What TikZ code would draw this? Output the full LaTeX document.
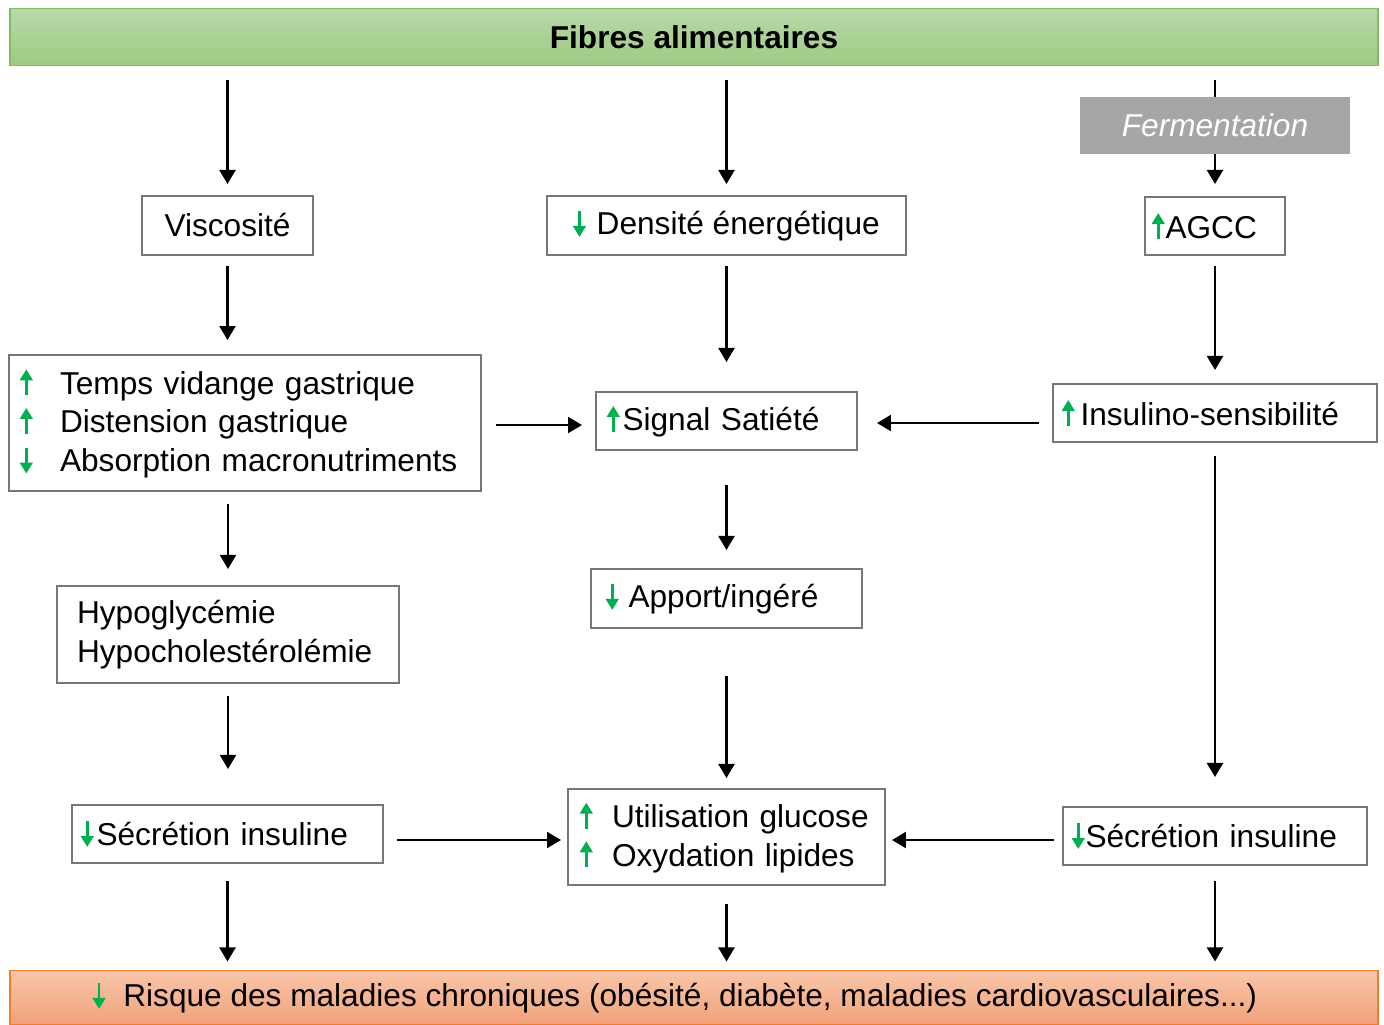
\documentclass[tikz,border=0pt]{standalone}
\usepackage{fontspec}
\setmainfont{Liberation Sans}
\usetikzlibrary{arrows.meta, positioning}
\definecolor{boxline}{RGB}{118,118,118}
\definecolor{vertfleche}{RGB}{0,176,80}
\definecolor{verthaut}{RGB}{184,217,168}
\definecolor{vertbas}{RGB}{158,202,132}
\definecolor{vertbord}{RGB}{128,188,98}
\definecolor{orangehaut}{RGB}{248,198,170}
\definecolor{orangebas}{RGB}{241,162,122}
\definecolor{orangebord}{RGB}{237,125,49}
\definecolor{fermgris}{RGB}{166,166,166}
% petites fleches vertes dans le texte
\newcommand{\hausse}{\tikz[x=1cm, y=1cm, baseline=0pt]\draw[vertfleche, line width=1.6pt, -{Triangle[length=0.22cm, width=0.25cm]}] (0,-0.02) -- (0,0.5);}
\newcommand{\baisse}{\tikz[x=1cm, y=1cm, baseline=0pt]\draw[vertfleche, line width=1.6pt, -{Triangle[length=0.22cm, width=0.25cm]}] (0,0.48) -- (0,-0.04);}

\begin{document}
\begin{tikzpicture}[x=0.02cm, y=-0.02cm,
		font=\fontsize{18}{22}\selectfont,
		box/.style={draw=boxline, line width=1.1pt, fill=white, inner sep=0pt, align=left},
		bar/.style={line width=1.1pt, minimum width=27.36cm, minimum height=1.14cm, inner sep=0pt},
		fleche/.style={line width=1.6pt, -{Triangle[length=8pt, width=9pt]}}
	]
		\useasboundingbox (0,0) rectangle (1384,1025);

		% bandes du haut et du bas
		\node[bar, draw=vertbord, top color=verthaut, bottom color=vertbas, font=\fontsize{18}{22}\selectfont\bfseries] (fibres) at (694,37) {Fibres alimentaires};
		\node[bar, draw=orangebord, top color=orangehaut, bottom color=orangebas, minimum height=1.08cm] (risque) at (694,997.5) {\baisse\hspace{0.36cm}Risque des maladies chroniques (obésité, diabète, maladies cardiovasculaires...)\hspace*{0.76cm}};

		% colonne gauche
		\node[box, align=center, minimum width=3.42cm, minimum height=1.18cm] (visc) at (227.5,225.5) {Viscosité};
		\node[box, minimum width=9.44cm, minimum height=2.72cm, text width=9.0cm] (temps) at (245,423) {%
			\makebox[0.8cm][l]{\hausse}Temps vidange gastrique\\
			\makebox[0.8cm][l]{\hausse}Distension gastrique\\
			\makebox[0.8cm][l]{\baisse}Absorption macronutriments};
		\node[box, minimum width=6.84cm, minimum height=1.94cm, text width=6.04cm] (hypo) at (228,634.5) {Hypoglycémie\\Hypocholestérolémie};
		\node[box, minimum width=6.22cm, minimum height=1.16cm, text width=5.86cm] (secl) at (227.5,834) {\baisse\hspace{0.06cm}Sécrétion insuline};

		% colonne centrale
		\node[box, align=center, minimum width=7.18cm, minimum height=1.18cm] (dens) at (726.5,225.5) {\baisse\hspace{0.22cm}Densité énergétique};
		\node[box, minimum width=5.22cm, minimum height=1.16cm, text width=4.78cm] (signal) at (726.5,421) {\hausse\hspace{0.06cm}Signal Satiété};
		\node[box, minimum width=5.42cm, minimum height=1.18cm, text width=4.82cm] (apport) at (726.5,598.5) {\baisse\hspace{0.2cm}Apport/ingéré};
		\node[box, minimum width=6.34cm, minimum height=1.92cm, text width=5.86cm] (util) at (726.5,837) {%
			\makebox[0.64cm][l]{\hausse}Utilisation glucose\\
			\makebox[0.64cm][l]{\hausse}Oxydation lipides};

		% colonne droite
		\node[box, minimum width=2.8cm, minimum height=1.16cm, text width=2.52cm] (agcc) at (1215,226) {\hausse\hspace{0.02cm}AGCC};
		\node[box, minimum width=6.48cm, minimum height=1.16cm, text width=6.12cm] (insul) at (1215,413) {\hausse\hspace{0.12cm}Insulino-sensibilité};
		\node[box, minimum width=6.08cm, minimum height=1.16cm, text width=5.72cm] (secr) at (1215,836) {\baisse\hspace{0.02cm}Sécrétion insuline};

		% fleches
		\draw[fleche, shorten <=0.28cm, shorten >=0.22cm] (fibres.south -| visc.north) -- (visc.north);
		\draw[fleche, shorten <=0.28cm, shorten >=0.22cm] (fibres.south -| dens.north) -- (dens.north);
		\draw[line width=1.6pt, shorten <=0.28cm] (fibres.south -| agcc.north) -- ++(0,31) coordinate (fermhaut);
		\draw[fleche, shorten >=0.24cm] (fermhaut) -- (agcc.north);
		\node[fill=fermgris, text=white, font=\fontsize{18}{22}\selectfont\itshape, minimum width=5.4cm, minimum height=1.14cm, inner sep=0pt] (ferm) at (1215,125.5) {Fermentation};

		\draw[fleche, shorten <=0.2cm, shorten >=0.28cm] (visc.south) -- (visc.south |- temps.north);
		\draw[fleche, shorten <=0.2cm, shorten >=0.58cm] (dens.south) -- (dens.south |- signal.north);
		\draw[fleche, shorten <=0.2cm, shorten >=0.26cm] (agcc.south) -- (agcc.south |- insul.north);

		\draw[fleche, shorten <=0.28cm, shorten >=0.26cm] ([yshift=-0.04cm]temps.east) -- ([yshift=-0.04cm]temps.east -| signal.west);
		\draw[fleche, shorten <=0.26cm, shorten >=0.38cm] ([yshift=-0.04cm]signal.east -| insul.west) -- ([yshift=-0.04cm]signal.east);

		\draw[fleche, shorten <=0.24cm, shorten >=0.32cm] (hypo.north |- temps.south) -- (hypo.north);
		\draw[fleche, shorten <=0.68cm, shorten >=0.36cm] (signal.south) -- (signal.south |- apport.north);
		\draw[fleche, shorten <=0.24cm, shorten >=0.7cm] (hypo.south) -- (hypo.south |- secl.north);
		\draw[fleche, shorten <=0.94cm, shorten >=0.2cm] (apport.south) -- (apport.south |- util.north);
		\draw[fleche, shorten <=0.26cm, shorten >=0.58cm] (insul.south) -- (insul.south |- secr.north);

		\draw[fleche, shorten <=0.26cm, shorten >=0.12cm] ([yshift=-0.06cm]util.west -| secl.east) -- ([yshift=-0.06cm]util.west);
		\draw[fleche, shorten <=0.16cm, shorten >=0.12cm] ([yshift=-0.06cm]util.east -| secr.west) -- ([yshift=-0.06cm]util.east);

		\draw[fleche, shorten <=0.34cm, shorten >=0.16cm] (secl.south) -- (secl.south |- risque.north);
		\draw[fleche, shorten <=0.36cm, shorten >=0.16cm] (util.south) -- (util.south |- risque.north);
		\draw[fleche, shorten <=0.3cm, shorten >=0.16cm] (secr.south) -- (secr.south |- risque.north);
	\end{tikzpicture}
\end{document}
